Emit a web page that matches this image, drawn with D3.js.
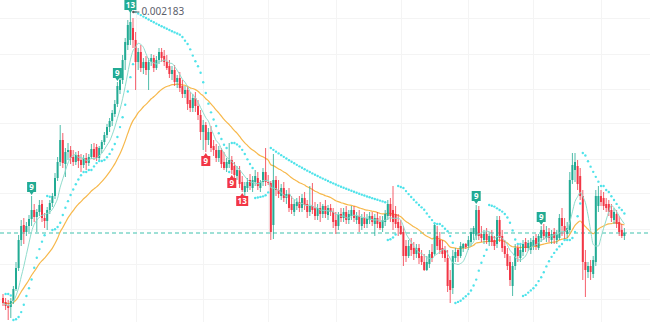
<!DOCTYPE html>
<html>
<head>
<meta charset="utf-8">
<script src="https://d3js.org/d3.v7.min.js"></script>
<style>
body { margin: 0; background: #fff; }
svg { display: block; }
text { font-family: "Noto Sans", Roboto, sans-serif; }
</style>
</head>
<body>
<div id="chart"></div>
<script>
// prices in millionths (1e-6)
var opens = [
1611,1603,1597,1593,1605,1629,1671,1727,1757,1743,
1755,1769,1787,1773,1783,1799,1771,1765,1787,1801,
1815,1851,1883,1927,1879,1903,1907,1893,1883,1897,
1887,1877,1891,1881,1893,1909,1913,1891,1909,1923,
1937,1953,1965,1979,1999,2027,2047,2087,2117,2127,
2151,2127,2083,2103,2071,2083,2067,2083,2091,2071,
2087,2103,2095,2083,2075,2059,2067,2043,2051,2035,
2019,2027,2007,1991,2011,1995,1977,1943,1957,1927,
1943,1915,1907,1891,1907,1883,1871,1879,1887,1875,
1855,1867,1843,1823,1831,1847,1831,1843,1851,1831,
1843,1863,1843,1841,1757,1847,1827,1815,1831,1811,
1819,1799,1783,1795,1803,1791,1811,1799,1783,1795,
1791,1775,1791,1779,1795,1777,1791,1783,1767,1755,
1779,1771,1783,1767,1775,1787,1767,1775,1755,1771,
1759,1767,1775,1759,1771,1763,1751,1763,1775,1799,
1787,1779,1763,1755,1743,1715,1695,1719,1711,1699,
1711,1695,1683,1667,1679,1703,1699,1735,1727,1711,
1707,1691,1647,1631,1691,1707,1695,1711,1719,1715,1723,
1739,1735,1787,1739,1727,1739,1723,1735,1727,1719,
1767,1735,1715,1699,1683,1635,1675,1711,1691,1703,
1723,1711,1707,1715,1731,1711,1731,1747,1731,1743,1727,
1743,1727,1731,1771,1755,1739,1747,1847,1867,1875,
1855,1815,1683,1663,1675,1659,1683,1795,1815,
1811,1799,1799,1787,1767,1779,1763,1747,1735];

var highs = [
1619,1611,1607,1611,1635,1683,1737,1767,1771,1763,
1777,1815,1799,1789,1807,1807,1781,1793,1807,1821,
1861,1893,1957,1941,1911,1921,1915,1907,1903,1905,
1899,1897,1901,1899,1919,1921,1919,1915,1927,1943,
1959,1971,1987,2007,2043,2051,2097,2131,2167,2183,
2171,2143,2111,2117,2091,2095,2091,2099,2097,2095,
2111,2111,2107,2097,2087,2075,2077,2057,2063,2047,
2035,2035,2023,2019,2023,2007,1987,1967,1963,1951,
1955,1927,1919,1915,1911,1903,1891,1921,1895,1883,
1875,1875,1855,1843,1851,1859,1855,1867,1863,1847,
1871,1911,1857,1845,1899,1855,1847,1839,1843,1827,
1831,1815,1807,1811,1815,1819,1823,1807,1835,1841,
1803,1799,1803,1799,1807,1797,1799,1791,1783,1783,
1791,1791,1795,1787,1795,1795,1783,1787,1779,1783,
1779,1783,1783,1779,1783,1775,1775,1787,1807,1811,
1835,1795,1779,1767,1755,1727,1727,1731,1723,1719,
1719,1707,1699,1695,1707,1719,1759,1755,1743,1727,
1715,1707,1667,1707,1711,1709,1723,1721,1721,1735,1751,
1755,1797,1795,1755,1747,1751,1743,1747,1735,1775,
1775,1747,1727,1711,1695,1683,1719,1719,1719,1727,
1731,1727,1731,1735,1739,1739,1755,1759,1755,1751,1747,
1751,1747,1779,1791,1771,1763,1863,1901,1901,1887,
1871,1827,1707,1683,1687,1695,1827,1835,1827,
1823,1811,1807,1799,1791,1787,1775,1759,1751];

var lows = [
1595,1587,1567,1571,1599,1625,1665,1715,1719,1735,
1743,1755,1763,1743,1775,1763,1751,1747,1779,1793,
1809,1845,1875,1871,1853,1887,1879,1875,1877,1871,
1863,1871,1867,1875,1889,1887,1885,1887,1901,1917,
1931,1943,1955,1973,1993,2019,2039,2067,2107,2117,
2111,2027,2067,2063,2059,2057,2027,2075,2063,2067,
2079,2083,2075,2067,2051,2047,2035,2031,2023,2011,
2011,1987,1983,1983,1983,1967,1927,1907,1903,1917,
1903,1895,1883,1883,1871,1867,1863,1871,1859,1851,
1847,1831,1823,1811,1823,1827,1823,1835,1827,1823,
1835,1835,1837,1727,1729,1815,1811,1807,1803,1799,
1783,1779,1775,1787,1783,1783,1787,1771,1775,1779,
1767,1767,1763,1771,1771,1767,1775,1751,1739,1747,
1763,1763,1759,1759,1767,1763,1759,1743,1747,1751,
1751,1759,1755,1735,1751,1747,1743,1755,1767,1763,
1747,1751,1735,1737,1675,1683,1691,1695,1687,1691,
1679,1677,1665,1665,1671,1683,1695,1707,1699,1691,
1683,1623,1601,1619,1683,1683,1691,1703,1709,1707,1715,
1727,1727,1727,1723,1719,1719,1715,1715,1707,1711,
1723,1703,1691,1667,1635,1615,1667,1683,1683,1695,
1703,1705,1699,1707,1707,1707,1723,1727,1723,1723,1719,
1719,1719,1727,1735,1727,1731,1743,1839,1843,1827,
1807,1647,1613,1651,1647,1651,1675,1783,1795,
1787,1783,1775,1763,1759,1751,1735,1731,1727];

var closes = [
1601,1595,1591,1605,1629,1671,1727,1755,1743,1755,
1769,1787,1773,1783,1797,1771,1765,1787,1801,1815,
1851,1883,1927,1881,1903,1907,1891,1883,1897,1885,
1877,1891,1881,1893,1909,1893,1891,1911,1923,1937,
1953,1965,1981,1999,2035,2047,2087,2123,2157,2163,
2127,2083,2103,2071,2083,2067,2083,2091,2071,2087,
2103,2091,2083,2071,2059,2067,2043,2051,2031,2019,
2027,1999,1991,2011,1995,1977,1943,1957,1927,1943,
1911,1907,1891,1907,1879,1871,1883,1887,1867,1857,
1867,1839,1827,1835,1843,1835,1847,1855,1835,1843,
1863,1843,1841,1743,1847,1827,1819,1831,1811,1819,
1791,1787,1799,1803,1791,1811,1797,1783,1795,1787,
1775,1791,1779,1795,1779,1791,1783,1763,1755,1779,
1771,1783,1767,1779,1787,1771,1775,1759,1771,1759,
1771,1775,1763,1771,1759,1751,1767,1779,1799,1775,
1763,1759,1751,1739,1695,1695,1715,1707,1699,1711,
1691,1683,1667,1683,1699,1691,1757,1715,1707,1699,
1691,1635,1627,1695,1703,1695,1715,1719,1713,1727,1743,
1751,1787,1735,1731,1739,1727,1735,1723,1715,1767,
1731,1711,1699,1675,1647,1675,1711,1695,1707,1719,
1711,1721,1723,1727,1715,1735,1747,1735,1743,1731,1739,
1731,1739,1771,1755,1743,1751,1847,1877,1883,1839,
1815,1683,1667,1675,1663,1687,1815,1815,1803,
1795,1791,1783,1771,1783,1759,1743,1735,1741];

// TD sequential marks
var tdIndex = [11, 44, 49, 78, 88, 92, 182, 207];
var tdText  = ['9', '9', '13', '9', '9', '13', '9', '9'];
var tdSide  = ['up', 'up', 'up', 'down', 'down', 'down', 'up', 'up'];

var gridPrices = [1610, 1680, 1750, 1820, 1890, 1960, 2030, 2100, 2170];
var gridCandles = [26, 51, 77, 102, 128, 153, 179, 204, 230];

var width = 650, height = 322;
var upColor = '#22ab94', downColor = '#f23645';

var candles = closes.map(function(c, i){
	return {i: i, o: opens[i], h: highs[i], l: lows[i], c: c};
});

var x = d3.scaleLinear().domain([0, candles.length - 1]).range([3, 624.4]);
var y = d3.scaleLinear().domain([1563, 2207]).range([height, 0]);

var svg = d3.select('#chart').append('svg')
	.attr('width', width)
	.attr('height', height);

svg.append('rect').attr('width', width).attr('height', height).attr('fill', '#fff');

// grid
svg.selectAll('.hgrid').data(gridPrices).enter().append('line')
	.attr('x1', 0).attr('x2', width)
	.attr('y1', function(d){ return Math.round(y(d)) + 0.5; })
	.attr('y2', function(d){ return Math.round(y(d)) + 0.5; })
	.attr('stroke', '#f4f4f4');
svg.selectAll('.vgrid').data(gridCandles).enter().append('line')
	.attr('y1', 0).attr('y2', height)
	.attr('x1', function(d){ return Math.round(x(d)) + 0.5; })
	.attr('x2', function(d){ return Math.round(x(d)) + 0.5; })
	.attr('stroke', '#f4f4f4');

// last price line
var last = closes[closes.length - 1];
svg.append('line')
	.attr('x1', 0).attr('x2', width)
	.attr('y1', y(last)).attr('y2', y(last))
	.attr('stroke', '#7fd6c9')
	.attr('stroke-width', 1.5)
	.attr('stroke-dasharray', '4,3');

// moving averages
function ema(vals, n){
	var k = 2 / (n + 1), out = [], prev = vals[0];
	vals.forEach(function(v, i){
		prev = i === 0 ? v : v * k + prev * (1 - k);
		out.push(prev);
	});
	return out;
}
function sma(vals, n){
	return vals.map(function(v, i){
		var s = vals.slice(Math.max(0, i - n + 1), i + 1);
		return d3.mean(s);
	});
}
var line = d3.line()
	.x(function(d, i){ return x(i); })
	.y(function(d){ return y(d); })
	.curve(d3.curveMonotoneX);

svg.append('path').datum(ema(closes, 30))
	.attr('d', line).attr('fill', 'none')
	.attr('stroke', '#f7b84b').attr('stroke-width', 1.2);

// candles
var g = svg.append('g');
g.selectAll('.wick').data(candles).enter().append('line')
	.attr('x1', function(d){ return x(d.i); })
	.attr('x2', function(d){ return x(d.i); })
	.attr('y1', function(d){ return y(d.h); })
	.attr('y2', function(d){ return y(d.l); })
	.attr('stroke', function(d){ return d.c >= d.o ? upColor : downColor; })
	.attr('stroke-width', 0.8);
g.selectAll('.body').data(candles).enter().append('rect')
	.attr('x', function(d){ return x(d.i) - 1; })
	.attr('width', 2)
	.attr('y', function(d){ return y(Math.max(d.o, d.c)); })
	.attr('height', function(d){ return Math.max(1, Math.abs(y(d.o) - y(d.c))); })
	.attr('fill', function(d){ return d.c >= d.o ? upColor : downColor; });

svg.append('path').datum(sma(closes, 7))
	.attr('d', line).attr('fill', 'none')
	.attr('stroke', '#8fdccc').attr('stroke-width', 1);

// parabolic SAR
function psar(step, maxAf){
	var up = closes[1] >= closes[0];
	var af = step, ep = up ? highs[0] : lows[0], sar = up ? lows[0] : highs[0];
	var out = [null];
	for (var i = 1; i < candles.length; i++){
		sar = sar + af * (ep - sar);
		if (up){
			sar = Math.min(sar, lows[i - 1], lows[Math.max(0, i - 2)]);
			if (lows[i] < sar){ up = false; sar = ep; ep = lows[i]; af = step; }
			else if (highs[i] > ep){ ep = highs[i]; af = Math.min(af + step, maxAf); }
		} else {
			sar = Math.max(sar, highs[i - 1], highs[Math.max(0, i - 2)]);
			if (highs[i] > sar){ up = true; sar = ep; ep = highs[i]; af = step; }
			else if (lows[i] < ep){ ep = lows[i]; af = Math.min(af + step, maxAf); }
		}
		out.push(sar);
	}
	return out;
}
var sarVals = psar(0.02, 0.2);
svg.selectAll('.sar').data(sarVals.map(function(v, i){ return {i: i, v: v}; }).filter(function(d){ return d.v !== null; }))
	.enter().append('circle')
	.attr('cx', function(d){ return x(d.i); })
	.attr('cy', function(d){ return y(d.v); })
	.attr('r', 1.2)
	.attr('fill', '#4fe3ea');

// TD labels
tdIndex.forEach(function(idx, k){
	var cx = x(idx), txt = tdText[k];
	var w = txt.length > 1 ? 12 : 9, h = 10;
	var col = tdSide[k] === 'up' ? upColor : downColor;
	var top, path;
	if (tdSide[k] === 'up'){
		var bottom = Math.max(h, y(highs[idx]) - 4);
		top = bottom - h;
		path = 'M' + (cx - w/2) + ',' + top + 'h' + w + 'v' + h + 'h' + (-(w/2 - 2)) +
			'l-2,3l-2,-3h' + (-(w/2 - 2)) + 'z';
	} else {
		top = y(lows[idx]) + 4;
		path = 'M' + (cx - w/2) + ',' + top + 'h' + (w/2 - 2) + 'l2,-3l2,3h' + (w/2 - 2) +
			'v' + h + 'h' + (-w) + 'z';
	}
	svg.append('path').attr('d', path).attr('fill', col);
	svg.append('text')
		.attr('x', cx).attr('y', top + h/2 + 0.5)
		.attr('text-anchor', 'middle')
		.attr('dominant-baseline', 'middle')
		.attr('font-size', 8)
		.attr('font-weight', 'bold')
		.attr('fill', '#fff')
		.text(txt);
});

// max price label
var maxIdx = d3.maxIndex(highs);
var mx = x(maxIdx), my = y(highs[maxIdx]);
svg.append('circle').attr('cx', mx + 3).attr('cy', my).attr('r', 1.3).attr('fill', '#555');
svg.append('line').attr('x1', mx + 3).attr('x2', mx + 9).attr('y1', my).attr('y2', my)
	.attr('stroke', '#666').attr('stroke-width', 1);
svg.append('text')
	.attr('x', mx + 11).attr('y', my)
	.attr('dominant-baseline', 'middle')
	.attr('font-size', 10)
	.attr('fill', '#5d606b')
	.text((highs[maxIdx] / 1e6).toFixed(6));
</script>
</body>
</html>
